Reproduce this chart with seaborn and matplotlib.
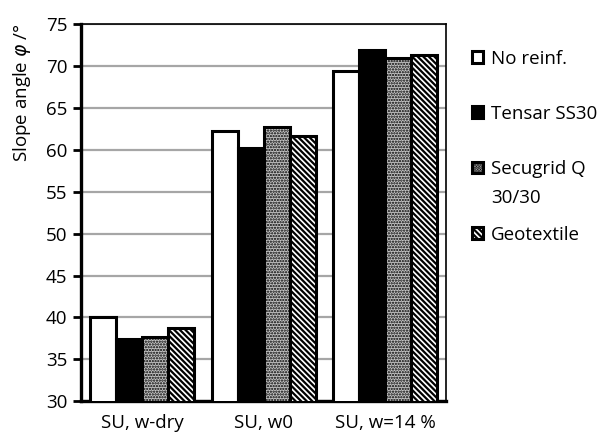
import matplotlib
matplotlib.use("Agg")
import matplotlib.pyplot as plt
import seaborn as sns
import pandas as pd
from matplotlib.patches import Patch

categories = ["SU, w-dry", "SU, w0", "SU, w=14 %"]
series = ["No reinf.", "Tensar SS30", "Secugrid Q\n30/30", "Geotextile"]
no_reinf = [40.0, 62.3, 69.4]
tensar = [37.4, 60.2, 72.0]
secugrid = [37.7, 62.7, 71.0]
geotextile = [38.8, 61.7, 71.3]
yticks = [30, 35, 40, 45, 50, 55, 60, 65, 70, 75]

rows = []
for s, vals in zip(series, [no_reinf, tensar, secugrid, geotextile]):
    for c, v in zip(categories, vals):
        rows.append({"cat": c, "series": s, "val": v})
df = pd.DataFrame(rows)

sns.set_style("white")
plt.rcParams['font.family'] = ['Open Sans', 'DejaVu Sans']
plt.rcParams['hatch.linewidth'] = 1.6
plt.rcParams['mathtext.fontset'] = 'dejavusans'
for k in ['text.color', 'axes.labelcolor', 'xtick.color', 'ytick.color']:
    plt.rcParams[k] = 'black'

FS = 13.5
fig = plt.figure(figsize=(6.01, 4.37), dpi=100)
ax = fig.add_axes([0.135, 0.082, 0.607, 0.862])

faces = ["white", "black", "#c4c4c4", "white"]
hatches = [None, None, "......", "\\\\\\\\\\\\"]
hatch_lw = [1.6, 1.6, 1.1, 1.6]

sns.barplot(data=df, x="cat", y="val", hue="series", order=categories,
            hue_order=series, palette=faces, width=0.855, gap=0,
            edgecolor="black", linewidth=2.2, saturation=1, ax=ax,
            legend=False, zorder=3)

for cont, h, fc, hl in zip(ax.containers, hatches, faces, hatch_lw):
    for bar in cont:
        bar.set_facecolor(fc)
        if h:
            bar.set_hatch(h)
            if hasattr(bar, "set_hatch_linewidth"):
                bar.set_hatch_linewidth(hl)

ax.set_ylim(30, 75)
ax.set_xlim(-0.5, 2.5)
ax.set_yticks(yticks)
ax.yaxis.grid(True, color="#a6a6a6", linewidth=1.6, zorder=0)
ax.set_axisbelow(True)
ax.set_xlabel("")
ax.set_ylabel(r"Slope angle $\varphi$ /°", fontsize=FS)
ax.yaxis.set_label_coords(-0.133, 0.82)

ax.set_xticks([0, 1, 2])
ax.set_xticklabels(categories)
ax.set_xticks([-0.5, 0.5, 1.5, 2.5], minor=True)
ax.tick_params(axis="x", which="major", length=0, labelsize=FS, pad=9)
ax.tick_params(axis="x", which="minor", length=6, width=2, direction="out", color="black")
ax.tick_params(axis="y", length=6, width=2, direction="out", labelsize=FS, color="black", left=True, pad=4)

for side in ["left", "bottom"]:
    ax.spines[side].set_linewidth(2.4)
    ax.spines[side].set_color("black")
for side in ["top", "right"]:
    ax.spines[side].set_linewidth(1.2)
    ax.spines[side].set_color("black")
    ax.spines[side].set_visible(True)

# legend: one entry per row at the reference's uneven spacing
leg_x = 0.785
leg_y = [0.865, 0.740, 0.613, 0.463]
for fc, h, hl, lab, y in zip(faces, hatches, hatch_lw, series, leg_y):
    first, *rest = lab.split("\n")
    p = Patch(facecolor=fc, edgecolor="black", hatch=h, linewidth=2.2)
    if h and hasattr(p, "set_hatch_linewidth"):
        p.set_hatch_linewidth(hl)
    fig.legend([p], [first], loc="center left", bbox_to_anchor=(leg_x, y),
               frameon=False, fontsize=FS, handlelength=0.6, handleheight=0.6,
               handletextpad=0.4, borderaxespad=0, borderpad=0)
    for i, extra in enumerate(rest):
        fig.text(0.817, y - 0.066 * (i + 1), extra, fontsize=FS,
                 ha="left", va="center")

fig.savefig("out.png", dpi=100)
